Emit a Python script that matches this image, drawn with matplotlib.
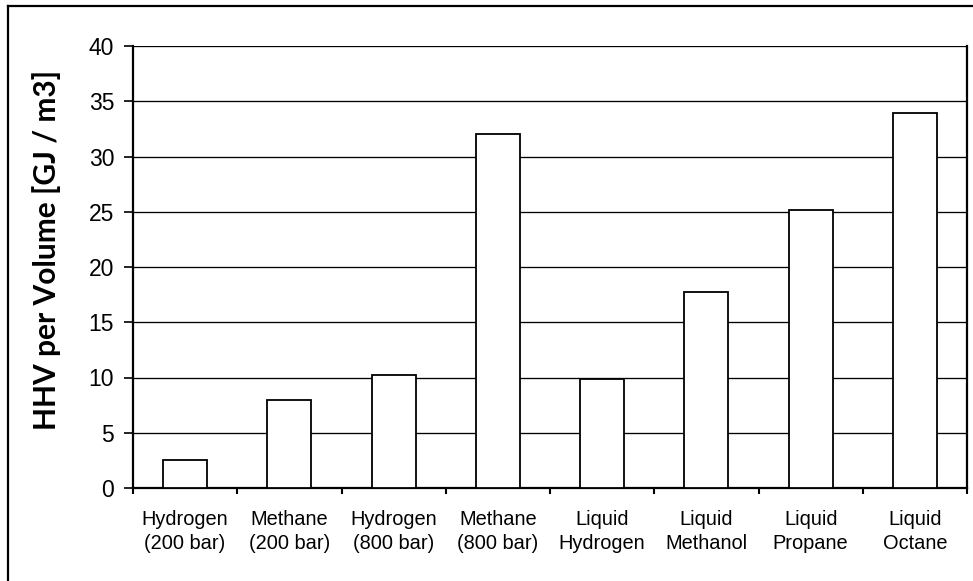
import matplotlib.pyplot as plt
from matplotlib.lines import Line2D
import numpy as np

# Daten
fuels = ['Hydrogen\n(200 bar)', 'Methane\n(200 bar)', 'Hydrogen\n(800 bar)', 'Methane\n(800 bar)',
         'Liquid\nHydrogen', 'Liquid\nMethanol', 'Liquid\nPropane', 'Liquid\nOctane']
hhv = [2.55, 7.95, 10.2, 32.05, 9.85, 17.75, 25.2, 33.9]
y_ticks = [0, 5, 10, 15, 20, 25, 30, 35, 40]

W, H = 973, 581
fig = plt.figure(figsize=(W / 100, H / 100), dpi=100)
ax = fig.add_axes([133 / W, 1 - 488 / H, (967 - 133) / W, (488 - 46) / H])

x = np.arange(len(fuels))
ax.bar(x, hhv, width=0.42, color='white', edgecolor='black', linewidth=1.3, zorder=3)

ax.set_xlim(-0.5, len(fuels) - 0.5)
ax.set_ylim(0, 40)
ax.set_yticks(y_ticks)
for t in y_ticks[1:]:
    ax.axhline(t, color='black', linewidth=0.95, zorder=1)

# x-Achse: Beschriftung in der Mitte, Striche an den Grenzen
ax.set_xticks(x)
ax.set_xticklabels(fuels, fontsize=14.4, family='Liberation Sans', linespacing=1.3)
ax.tick_params(axis='x', which='major', length=0, pad=16)
ax.set_xticks(np.arange(len(fuels) + 1) - 0.5, minor=True)
ax.tick_params(axis='x', which='minor', length=4, width=1.5, direction='out')

ax.tick_params(axis='y', length=6.5, width=1.2, pad=7, labelsize=16.5)
for lab in ax.get_yticklabels():
    lab.set_family('Liberation Sans')

for side in ['left', 'bottom', 'right']:
    ax.spines[side].set_linewidth(1.6)
ax.spines['top'].set_visible(False)

fig.text(47 / W, 1 - 250 / H, 'HHV per Volume [GJ / m3]', rotation=90, fontsize=21.5,
         fontweight='bold', family='Lato', ha='center', va='center')

# Rahmen um das Diagramm (rechts und unten abgeschnitten)
fig.add_artist(Line2D([8 / W, 8 / W], [0, 1 - 6 / H], color='black', linewidth=1.6))
fig.add_artist(Line2D([8 / W, 1], [1 - 6 / H, 1 - 6 / H], color='black', linewidth=1.6))

fig.savefig('out.png', dpi=100)
